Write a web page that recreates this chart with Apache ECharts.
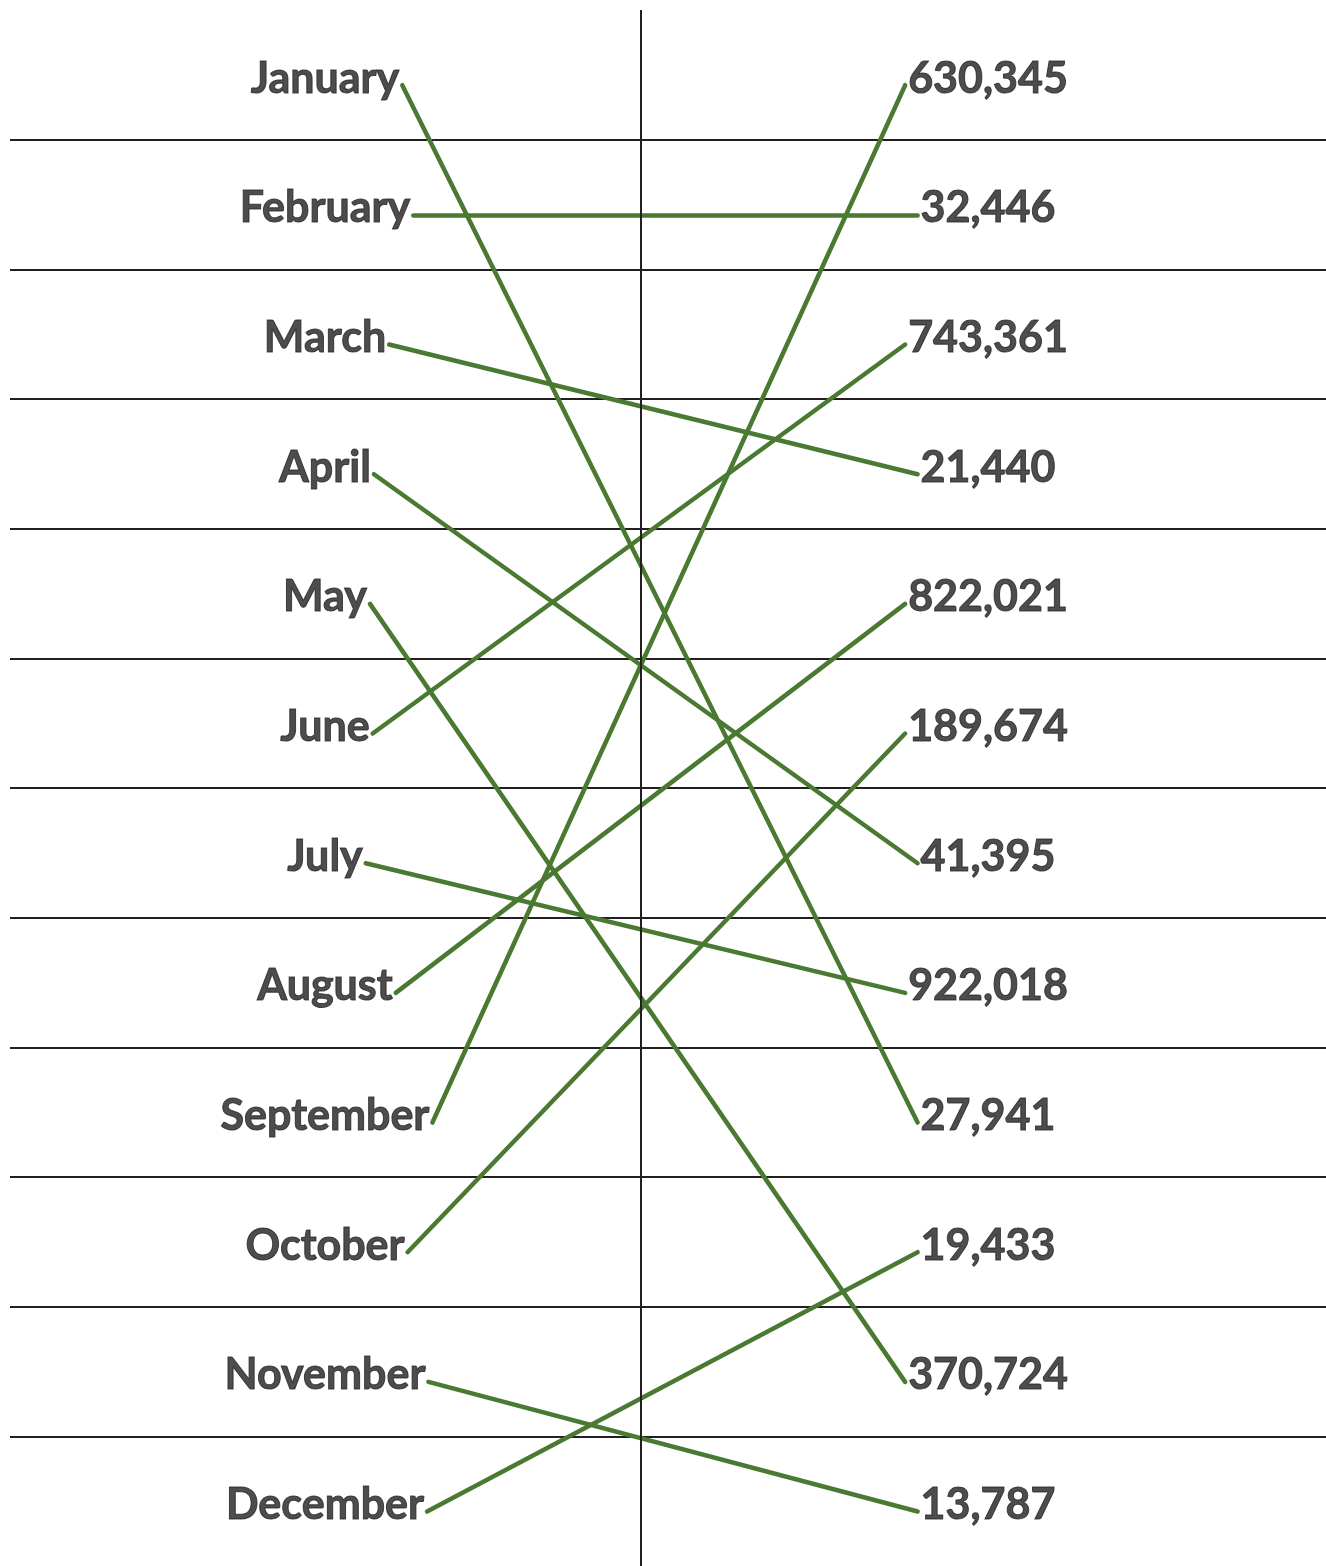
<!DOCTYPE html>
<html>
<head>
<meta charset="utf-8">
<script src="https://cdn.jsdelivr.net/npm/echarts@6/dist/echarts.min.js"></script>
<style>
html,body{margin:0;padding:0;background:#fff;}
#chart{width:1326px;height:1566px;}
</style>
</head>
<body>
<div id="chart"></div>
<script>
// ---- data ----
const months = ['January','February','March','April','May','June','July','August','September','October','November','December'];
const amounts = [630345, 32446, 743361, 21440, 822021, 189674, 41395, 922018, 27941, 19433, 370724, 13787];
// index in `amounts` that each month is joined to
const matchedAmount = [8, 1, 3, 6, 10, 2, 7, 4, 0, 5, 11, 9];

// ---- layout constants ----
const FONT_SIZE = 43;
const FONT_FAMILY = 'Lato';
const FONT = 'bold ' + FONT_SIZE + 'px ' + FONT_FAMILY;
const GRID_W = 1316;          // x axis runs 0..GRID_W so one unit = one pixel
const LEFT_COL = 315;
const RIGHT_COL = 978;
const DIVIDER = 631;
const GAP = 3;
const DROP = 0.08;            // line ends sit slightly below text centre

const fmt = v => v.toLocaleString('en-US');
const ctx = document.createElement('canvas').getContext('2d');
ctx.font = FONT;
const halfW = s => ctx.measureText(s).width / 2;

const leftData = months.map((m, i) => [LEFT_COL, i + 0.5, m]);
const rightData = amounts.map((v, i) => [RIGHT_COL, i + 0.5, fmt(v)]);
const linkData = months.map((m, i) => {
  const j = matchedAmount[i];
  return {
    coords: [
      [LEFT_COL + halfW(m) + GAP, i + 0.5 + DROP],
      [RIGHT_COL - halfW(fmt(amounts[j])) - GAP, j + 0.5 + DROP]
    ]
  };
});

const labelStyle = {
  show: true,
  position: 'inside',
  offset: [0, 4],
  formatter: p => p.data[2],
  color: '#231f20',
  textBorderColor: '#231f20',
  textBorderWidth: 1,
  fontSize: FONT_SIZE,
  fontWeight: 'bold',
  fontFamily: FONT_FAMILY
};

const chart = echarts.init(document.getElementById('chart'), null, {renderer: 'canvas'});
chart.setOption({
  backgroundColor: '#ffffff',
  animation: false,
  grid: {left: 10, top: 10, width: GRID_W, height: 1560},
  xAxis: {
    type: 'value', min: 0, max: GRID_W,
    show: false
  },
  yAxis: {
    type: 'value', inverse: true, min: 0, max: 12, interval: 1,
    axisLine: {show: false}, axisTick: {show: false}, axisLabel: {show: false},
    splitLine: {show: true, showMinLine: false, showMaxLine: false,
      lineStyle: {color: '#231f20', width: 2}}
  },
  series: [
    {
      type: 'lines', coordinateSystem: 'cartesian2d', z: 3,
      lineStyle: {color: '#4a7a32', width: 4.5, opacity: 1, cap: 'round'},
      data: linkData
    },
    {
      type: 'scatter', symbolSize: 0, data: leftData, z: 4,
      label: labelStyle, silent: true,
      markLine: {
        silent: true, symbol: 'none', label: {show: false},
        lineStyle: {color: '#231f20', width: 2, type: 'solid'},
        data: [{xAxis: DIVIDER}]
      }
    },
    {
      type: 'scatter', symbolSize: 0, data: rightData, z: 4,
      label: labelStyle, silent: true
    }
  ]
});
</script>
</body>
</html>
